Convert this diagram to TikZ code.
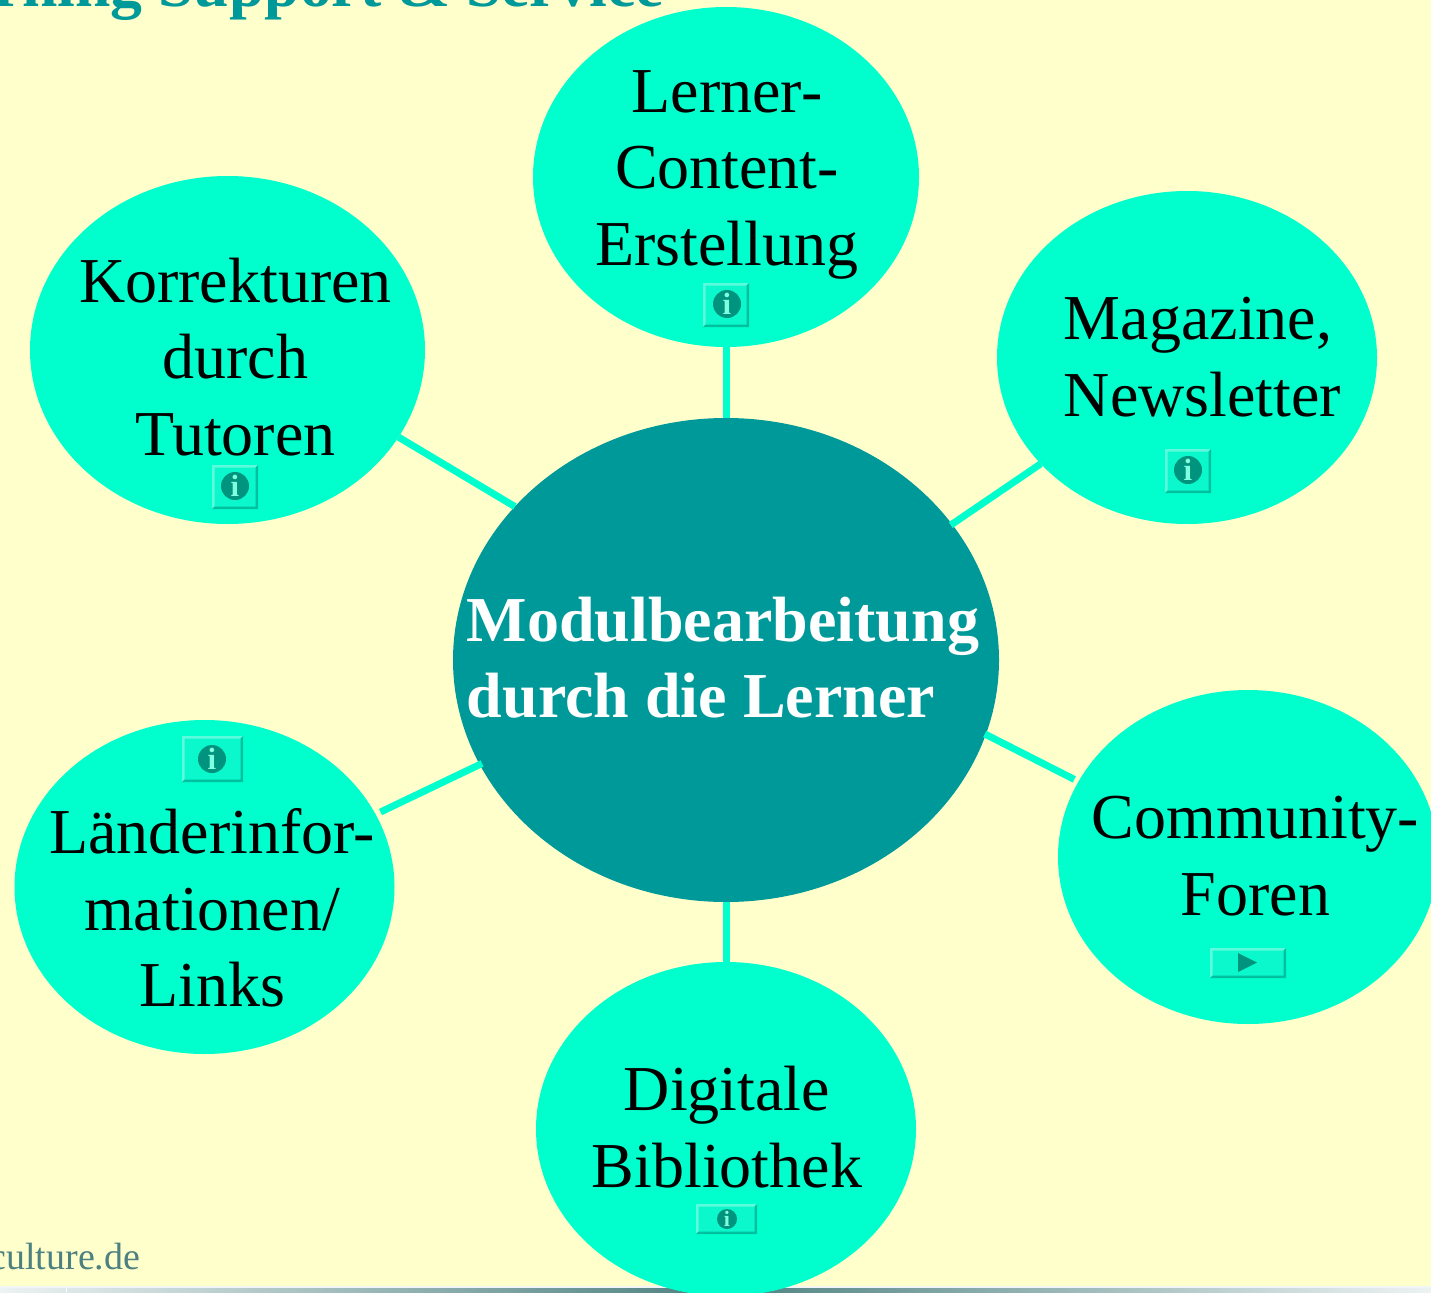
\documentclass[tikz,border=0pt]{standalone}
\usepackage{fontspec}
\setmainfont{Liberation Serif}
\usetikzlibrary{shapes.geometric}
\definecolor{bgc}{HTML}{FFFFCC}
\definecolor{mint}{HTML}{00FFCC}
\definecolor{teal1}{HTML}{009999}
\definecolor{btnface}{HTML}{0AF8CC}
\definecolor{btnlight}{HTML}{5CFBDD}
\definecolor{btndark}{HTML}{00C0A0}
\definecolor{btnicon}{HTML}{00947E}
\definecolor{btnglyph}{HTML}{80FFE0}
\definecolor{foot}{HTML}{4D8080}
\tikzset{
  leaf/.style={ellipse,fill=mint,inner sep=0pt,outer sep=0pt},
  hub/.style={ellipse,fill=teal1,inner sep=0pt,outer sep=0pt},
  label/.style={inner sep=0pt,outer sep=0pt,anchor=base,align=center,text=black,font=\fontsize{64}{76.5}\selectfont},
  link/.style={draw=mint,line width=7pt},
}
\newcommand{\btnframe}[4]{%
  \fill[btnface] (#1,#2) rectangle (#3,#4);
  \fill[btnlight] (#1,#2) -- (#3,#2) -- (#3-2.5,#2+2.5) -- (#1+2.5,#2+2.5) -- (#1+2.5,#4-2.5) -- (#1,#4) -- cycle;
  \fill[btndark] (#3,#4) -- (#1,#4) -- (#1+2.5,#4-2.5) -- (#3-2.5,#4-2.5) -- (#3-2.5,#2+2.5) -- (#3,#2) -- cycle;
}
\newcommand{\infobtn}[8]{%
  \btnframe{#1}{#2}{#3}{#4}
  \fill[btnicon] (#5,#6) circle (#7);
  \pgfmathsetmacro{\glyphsize}{#7*2.2}
  \node[inner sep=0pt,text=btnglyph,font=\bfseries\fontsize{\glyphsize}{\glyphsize}\selectfont] (#8) at (#5,#6) {i};
}
\begin{document}
\begin{tikzpicture}[x=1pt,y=-1pt]
\useasboundingbox (0,0) rectangle (1431,1292);
\clip (0,0) rectangle (1431,1292);
\fill[bgc] (0,0) rectangle (1431,1292);
% bottom strip
\fill[white!92!foot] (0,1286) rectangle (1431,1288);
\fill[left color=white!90!foot,right color=foot] (0,1288) rectangle (716,1292);
\fill[left color=foot,right color=white!90!foot] (716,1288) rectangle (1431,1292);
\fill[white] (65.5,1288) rectangle (66.5,1292);
% title and footer
\node[inner sep=0pt,anchor=base east,text=teal1,font=\bfseries\fontsize{63.6}{77}\selectfont] (title) at (664,6.5) {rning Support \& Service};
\node[inner sep=0pt,anchor=base east,text=foot,font=\fontsize{38}{44}\selectfont] (footer) at (140.5,1269.5) {culture.de};
% ellipses
\node[hub,minimum width=546pt,minimum height=484pt] (c) at (726,660) {};
\node[leaf,minimum width=386pt,minimum height=340pt] (t) at (726,177) {};
\node[leaf,minimum width=380pt,minimum height=333pt] (m) at (1187,357.5) {};
\node[leaf,minimum width=380pt,minimum height=334pt] (f) at (1248,857) {};
\node[leaf,minimum width=380pt,minimum height=334pt] (d) at (726,1129) {};
\node[leaf,minimum width=380pt,minimum height=334pt] (l) at (204.5,887) {};
\node[leaf,minimum width=395pt,minimum height=348pt] (k) at (227.5,350) {};
% connectors
\draw[link] (t.south) -- (c.north);
\draw[link] (c.south) -- (d.north);
\draw[link] (k.-27.05) -- (c.144.5);
\draw[link,shorten >=-1.5pt] (m.216.55) -- (c.31.11);
\draw[link,shorten <=4.7pt,shorten >=-1.1pt] (f.156.17) -- (c.-16.45);
\draw[link,shorten <=5.4pt,shorten >=-2.5pt] (l.23.43) -- (c.203.4);
% labels
\node[label] (tt) at (727,265) {Lerner-\\Content-\\Erstellung};
\node[label] (kt) at (235.5,455) {Korrekturen\\durch\\Tutoren};
\node[label,align=left] (mt) at (1202.5,416) {Magazine,\\Newsletter};
\node[label] (ft) at (1255.5,915) {Community-\\Foren};
\node[label] (lt) at (212,1006.5) {Länderinfor-\\mationen/\\Links};
\node[label] (dt) at (727,1187) {Digitale\\Bibliothek};
\node[label,align=left,text=white,font=\bfseries\fontsize{64}{76.5}\selectfont] (ct) at (723,717.5) {Modulbearbeitung\\durch die Lerner};
% buttons
\infobtn{703}{283}{749}{327}{727}{304}{14}{i1}
\infobtn{1165}{449}{1211}{493}{1188}{470}{14}{i2}
\infobtn{212}{465}{258}{509}{235}{486}{14}{i3}
\infobtn{182}{736}{243}{782}{212}{759}{14}{i4}
\infobtn{696}{1204}{757}{1234}{727}{1219}{10}{i5}
\btnframe{1210}{948}{1286}{978}
\fill[btnicon] (1238,953) -- (1257,962.5) -- (1238,972) -- cycle;
\end{tikzpicture}
\end{document}
